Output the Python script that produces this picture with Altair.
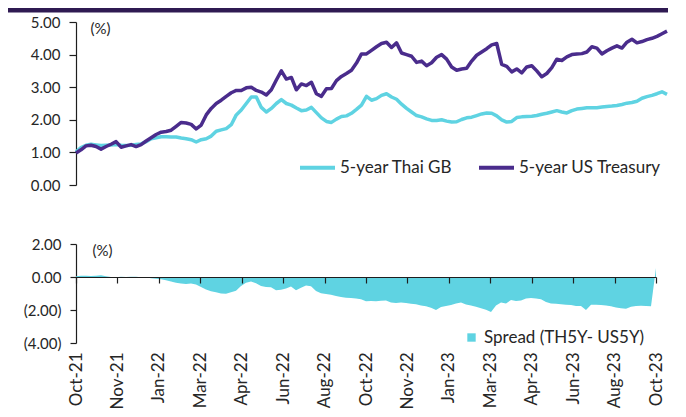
import json
import altair as alt
import pandas as pd

# ---------------- data ----------------
series_names = ["5-year Thai GB", "5-year US Treasury"]
spread_name = "Spread (TH5Y- US5Y)"
tick_labels = ["Oct-21", "Nov-21", "Jan-22", "Mar-22", "Apr-22", "Jun-22", "Aug-22",
               "Oct-22", "Nov-22", "Jan-23", "Mar-23", "Apr-23", "Jun-23", "Aug-23", "Oct-23"]

thai_gb = [1.02, 1.15, 1.22, 1.25, 1.23, 1.21, 1.22, 1.23, 1.24, 1.22,
           1.21, 1.22, 1.24, 1.26, 1.33, 1.42, 1.45, 1.48, 1.48, 1.47,
           1.47, 1.44, 1.42, 1.39, 1.32, 1.39, 1.42, 1.5, 1.65, 1.69,
           1.73, 1.85, 2.15, 2.3, 2.5, 2.7, 2.7, 2.38, 2.24, 2.35,
           2.5, 2.62, 2.5, 2.45, 2.36, 2.28, 2.3, 2.38, 2.22, 2.06,
           1.95, 1.92, 2.02, 2.1, 2.12, 2.2, 2.32, 2.45, 2.72, 2.6,
           2.65, 2.75, 2.8, 2.7, 2.63, 2.48, 2.35, 2.24, 2.13, 2.09,
           2.03, 1.98, 1.98, 2.0, 1.96, 1.93, 1.94, 2.01, 2.06, 2.08,
           2.13, 2.18, 2.21, 2.2, 2.12, 2.0, 1.93, 1.95, 2.07, 2.09,
           2.1, 2.11, 2.13, 2.17, 2.2, 2.24, 2.28, 2.24, 2.21, 2.28,
           2.33, 2.35, 2.37, 2.37, 2.37, 2.39, 2.41, 2.42, 2.44, 2.47,
           2.51, 2.53, 2.57, 2.66, 2.71, 2.75, 2.8, 2.86, 2.78]

us_treasury = [0.98, 1.08, 1.2, 1.22, 1.18, 1.1, 1.18, 1.25, 1.33, 1.16,
               1.2, 1.24, 1.18, 1.24, 1.35, 1.45, 1.55, 1.62, 1.64, 1.68,
               1.8, 1.92, 1.9, 1.86, 1.72, 1.84, 2.15, 2.35, 2.5, 2.6,
               2.72, 2.83, 2.9, 2.9, 2.98, 3.0, 2.9, 2.85, 2.76, 2.92,
               3.22, 3.5, 3.25, 3.3, 2.92, 3.1, 3.05, 3.15, 2.8, 2.72,
               2.95, 2.96, 3.2, 3.33, 3.42, 3.52, 3.74, 4.02, 4.02, 4.13,
               4.24, 4.34, 4.38, 4.22, 4.36, 4.05, 4.0, 3.95, 3.76, 3.8,
               3.66, 3.75, 3.92, 4.0, 3.86, 3.62, 3.52, 3.56, 3.58, 3.8,
               3.98, 4.08, 4.18, 4.3, 4.34, 3.7, 3.64, 3.47, 3.56, 3.44,
               3.62, 3.66, 3.5, 3.32, 3.42, 3.6, 3.86, 3.82, 3.93, 4.0,
               4.02, 4.03, 4.08, 4.24, 4.2, 4.02, 4.12, 4.2, 4.27, 4.2,
               4.38, 4.47, 4.36, 4.4, 4.46, 4.5, 4.56, 4.64, 4.72]

spread = [0.05, 0.08, 0.08, 0.06, 0.08, 0.1, 0.05, 0.0, -0.02, 0.02,
          0.0, 0.01, 0.01, -0.01, -0.02, -0.07, -0.1, -0.13, -0.2, -0.27,
          -0.35, -0.4, -0.42, -0.4, -0.45, -0.6, -0.75, -0.87, -0.92, -1.0,
          -1.02, -0.93, -0.83, -0.55, -0.35, -0.27, -0.38, -0.55, -0.6, -0.62,
          -0.8, -0.78, -0.7, -0.58, -0.8, -0.65, -0.52, -0.56, -0.85, -0.98,
          -1.03, -1.08, -1.15, -1.21, -1.25, -1.27, -1.3, -1.35, -1.47, -1.46,
          -1.47, -1.44, -1.42, -1.55, -1.57, -1.55, -1.58, -1.62, -1.65, -1.72,
          -1.78, -1.86, -2.0, -1.82, -1.75, -1.7, -1.6, -1.55, -1.66, -1.72,
          -1.8, -1.9, -1.98, -2.12, -1.72, -1.55, -1.6, -1.4, -1.45, -1.42,
          -1.3, -1.27, -1.3, -1.35, -1.52, -1.6, -1.62, -1.65, -1.68, -1.7,
          -1.75, -1.75, -2.0, -1.68, -1.68, -1.7, -1.72, -1.78, -1.85, -1.9,
          -1.93, -1.8, -1.75, -1.74, -1.75, -1.78, 0.55]

# ---------------- style ----------------
FONT = "Lato"
TEXT = "#262626"
AXIS = "#1e1e1e"
CYAN = "#5fd3e2"
PURPLE = "#4a2c8c"
BAND = "#2f1a52"

TOP_W, TOP_H = 591, 163
BOT_W, BOT_H = 580, 99

n_top = len(thai_gb)
top_df = pd.DataFrame({
    "i": list(range(n_top)) * 2,
    "series": [series_names[0]] * n_top + [series_names[1]] * n_top,
    "value": thai_gb + us_treasury,
})
n_bot = len(spread)
bot_df = pd.DataFrame({"i": list(range(n_bot)), "value": spread,
                       "series": [spread_name] * n_bot})

lines = alt.Chart(top_df).mark_line(strokeWidth=3.5, strokeJoin="round").encode(
    x=alt.X("i:Q", scale=alt.Scale(domain=[0, n_top - 1], nice=False, zero=False), axis=None),
    y=alt.Y("value:Q", scale=alt.Scale(domain=[0, 5], nice=False),
            axis=alt.Axis(values=[0, 1, 2, 3, 4, 5], format=".2f", grid=False,
                          tickSize=7, labelPadding=9, title="(%)", titleAngle=0,
                          titleAlign="left", titleBaseline="top", titleX=14, titleY=-1)),
    color=alt.Color("series:N", scale=alt.Scale(domain=series_names, range=[CYAN, PURPLE]),
                    legend=alt.Legend(title=None, orient="none", legendX=222, legendY=126,
                                      direction="horizontal", symbolType="stroke",
                                      symbolStrokeWidth=4, symbolSize=1225,
                                      labelOffset=3, columnPadding=18, labelFontSize=17,
                                      labelLimit=400)),
)

band = alt.Chart(pd.DataFrame({"k": [0]})).mark_rect(color=BAND).encode(
    x=alt.value(-68), x2=alt.value(592), y=alt.value(-14), y2=alt.value(-9.5)
)

top = alt.layer(band, lines).properties(width=TOP_W, height=TOP_H)

label_arr = json.dumps(tick_labels)
n_int = len(tick_labels) - 1
area = alt.Chart(bot_df).mark_area(opacity=1).encode(
    x=alt.X("i:Q", scale=alt.Scale(domain=[0, n_bot - 1], nice=False, zero=False),
            axis=alt.Axis(values=[k * (n_bot - 1) / n_int for k in range(n_int + 1)],
                          labelExpr=f"{label_arr}[round(datum.value*{n_int}/{n_bot - 1})]",
                          labelAngle=-90, offset=-66, tickSize=6, labelPadding=69,
                          labelFontSize=17, grid=False, title=None, zindex=1)),
    y=alt.Y("value:Q", scale=alt.Scale(domain=[-4, 2], nice=False),
            axis=alt.Axis(values=[-4, -2, 0, 2], grid=False, tickSize=6, labelPadding=9,
                          labelExpr="datum.value < 0 ? '(' + format(-datum.value, '.2f') + ')' : format(datum.value, '.2f')",
                          title="(%)", titleAngle=0, titleAlign="left", titleBaseline="top",
                          titleX=16, titleY=-1)),
    y2=alt.datum(0),
    fill=alt.Fill("series:N", scale=alt.Scale(domain=[spread_name], range=[CYAN]),
                  legend=alt.Legend(title=None, orient="none", legendX=387, legendY=307,
                                    symbolType="square", symbolSize=70, symbolStrokeWidth=0,
                                    labelOffset=4, labelFontSize=17, labelLimit=400)),
)

bottom = area.properties(width=BOT_W, height=BOT_H)

chart = alt.vconcat(top, bottom, spacing=44).properties(padding=0).configure(
    font=FONT
).configure_axis(
    labelFont=FONT, labelFontSize=15, labelColor=TEXT,
    titleFont=FONT, titleFontSize=15, titleFontWeight="normal", titleColor=TEXT,
    domainColor=AXIS, tickColor=AXIS, domainWidth=1.2, tickWidth=1.2,
).configure_legend(
    labelFont=FONT, labelFontSize=16, labelColor=TEXT, padding=0,
).configure_view(stroke=None)

chart.save("out.html", embed_options={"renderer": "svg", "actions": False})
